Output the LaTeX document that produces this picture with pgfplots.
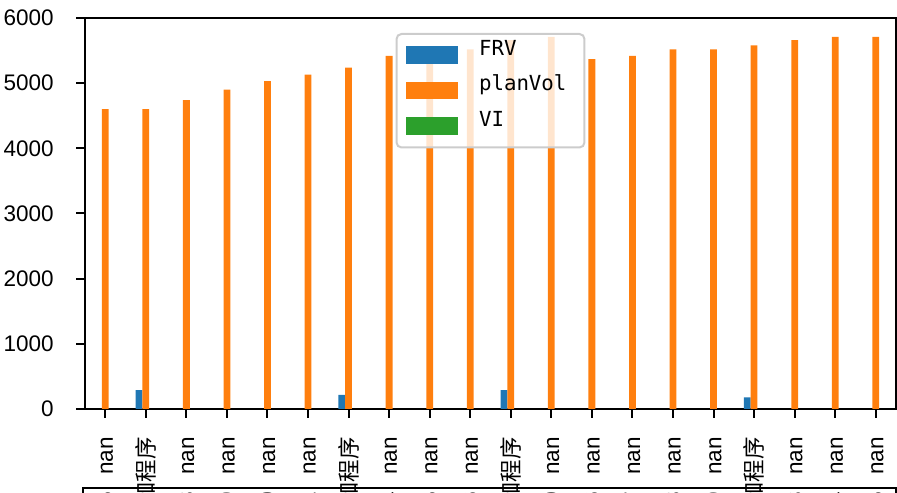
\documentclass[border=0pt]{standalone}
\usepackage{pgfplots}
\pgfplotsset{compat=1.18}
\usepackage{fontspec}
\setmainfont{Liberation Sans}
\newfontfamily\cjk{Noto Sans CJK SC}
\newfontfamily\legmono{DejaVu Sans Mono}
\definecolor{tabblue}{HTML}{1F77B4}
\definecolor{taborange}{HTML}{FF7F0E}
\definecolor{tabgreen}{HTML}{2CA02C}

\pgfplotstableread{
x val
0 4600
1 4600
2 4740
3 4900
4 5030
5 5130
6 5240
7 5420
8 5330
9 5520
10 5660
11 5710
12 5370
13 5420
14 5520
15 5520
16 5580
17 5660
18 5710
19 5710
}\planvol

\pgfplotstableread{
x val
1 290
6 215
10 290
16 180
}\frv

\pgfplotsset{
  mybar/.style={ybar, bar width=0.1667, draw=none, fill=#1,
    legend image code/.code={\fill[#1, fill opacity=1, draw=none, sharp corners] (0pt,-3.5pt) rectangle (21pt,3.5pt);}},
}

\begin{document}
\begin{tikzpicture}
\path[use as bounding box] (-34pt,-33.6pt) rectangle (324.8pt,163.6pt);
\begin{axis}[
  at={(0,0)}, anchor=south west,
  scale only axis, width=324.4pt, height=156.4pt,
  xmin=-0.5, xmax=19.5, ymin=0, ymax=6000,
  xtick={0,...,19},
  xticklabels={{5\hspace{7pt}nan},{\cjk 和程序},{8\hspace{7pt}nan},{9\hspace{7pt}nan},{0\hspace{7pt}nan},{1\hspace{7pt}nan},{\cjk 和程序},{4\hspace{7pt}nan},{5\hspace{7pt}nan},{6\hspace{7pt}nan},{\cjk 和程序},{0\hspace{7pt}nan},{6\hspace{7pt}nan},{7\hspace{7pt}nan},{8\hspace{7pt}nan},{9\hspace{7pt}nan},{\cjk 和程序},{3\hspace{7pt}nan},{4\hspace{7pt}nan},{5\hspace{7pt}nan}},
  ytick={0,1000,2000,3000,4000,5000,6000},
  tick pos=left,
  tick align=outside, major tick length=3.5pt,
  tick style={black, line width=0.8pt},
  axis line style={black, line width=0.8pt},
  /pgf/number format/assume math mode=true,
  /pgf/number format/1000 sep={},
  tick label style={font=\fontsize{9}{10}\selectfont},
  yticklabel style={anchor=east, inner sep=0pt},
  yticklabel shift=8.8pt,
  xticklabel style={yshift=-7.6pt, rotate=90, anchor=east, inner sep=0pt},
  legend style={at={(0.5,1)}, anchor=north, yshift=-6pt,
    fill=white, fill opacity=0.8, draw opacity=1, text opacity=1,
    draw=black!20, line width=0.8pt, rounded corners=2pt,
    inner xsep=3.6pt, inner ysep=5pt, row sep=7.2pt, column sep=0pt,
    font=\legmono\fontsize{8.3}{10}\selectfont,
    nodes={inner sep=0pt, text height=3.5pt, text depth=3.5pt, anchor=west},
    legend cell align=left},
]
\addplot[mybar=tabblue, bar shift=-0.1667] table[x=x, y=val] {\frv};
\addlegendentry{\kern8.4pt FRV\rule{3.6pt}{0pt}}
\addplot[mybar=taborange, bar shift=0] table[x=x, y=val] {\planvol};
\addlegendentry{\kern8.4pt planVol\rule{3.6pt}{0pt}}
\addlegendimage{mybar=tabgreen}
\addlegendentry{\kern8.4pt VI\rule{3.6pt}{0pt}}
\end{axis}
\draw[black, line width=0.8pt] (-0.8pt,-40pt) -- (-0.8pt,-31.6pt) -- (324.4pt,-31.6pt) -- (324.4pt,-40pt);
\end{tikzpicture}
\end{document}
